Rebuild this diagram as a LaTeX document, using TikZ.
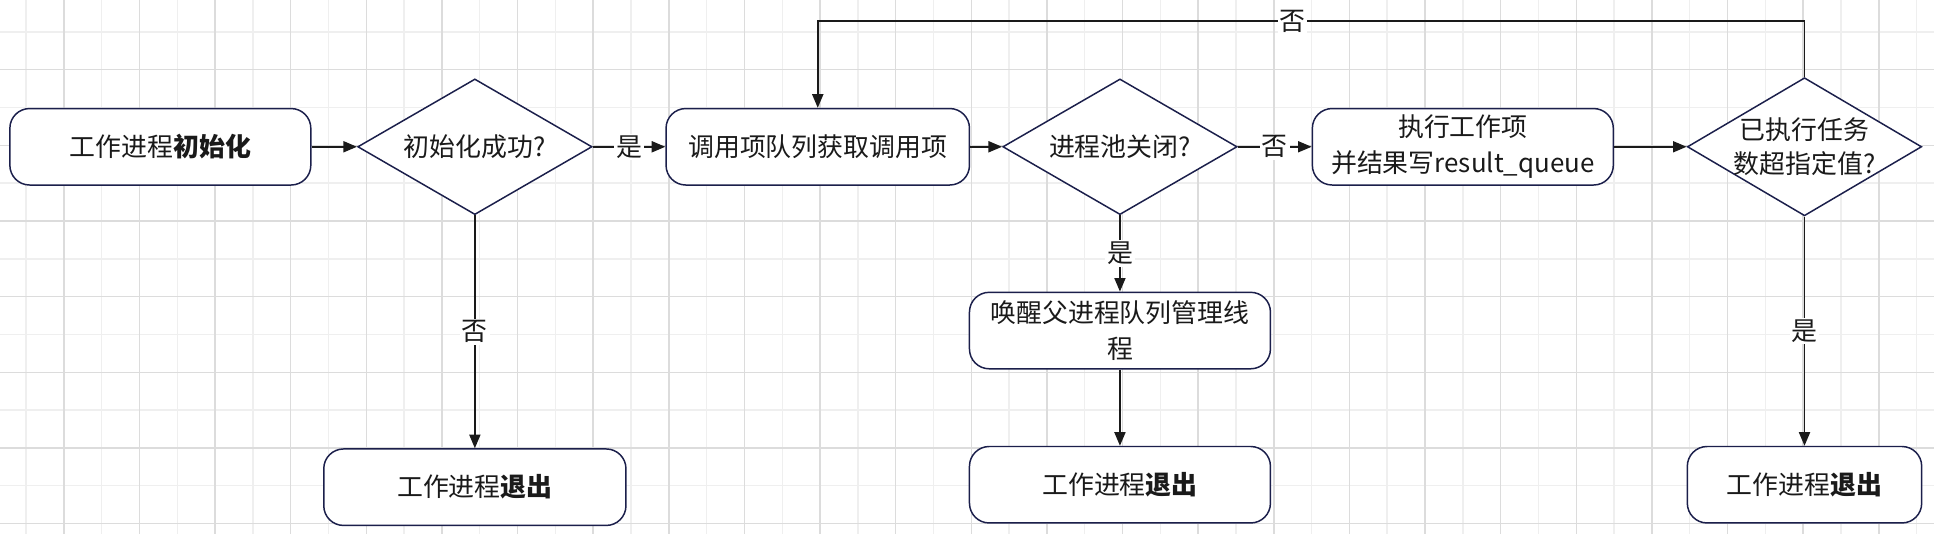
\documentclass[tikz,border=0pt]{standalone}
\usepackage{fontspec}
\setmainfont{Noto Sans CJK SC}
\usetikzlibrary{positioning}
\usetikzlibrary{shapes.geometric,arrows.meta}
\definecolor{edgeblue}{HTML}{1B1F4B}
\definecolor{ink}{HTML}{1A1A1A}
\definecolor{gridlight}{HTML}{EFEFEF}
\definecolor{griddark}{HTML}{DCDCDC}

\begin{document}
\begin{tikzpicture}[x=1pt,y=-1pt,
 box/.style={draw=edgeblue,line width=1.2pt,rounded corners=16pt,fill=white,minimum width=244pt,minimum height=62pt,inner sep=0pt,align=center,text=ink,font=\fontsize{21}{29}\selectfont},
 decision/.style={diamond,draw=edgeblue,line width=1.2pt,fill=white,minimum width=190pt,minimum height=110pt,aspect=1.727,inner xsep=-20pt,inner ysep=-8pt,align=center,text=ink,font=\fontsize{21}{28}\selectfont},
 flow/.style={draw=ink,line width=1.2pt,-{Triangle[length=11pt,width=9pt]}},
 tag/.style={fill=white,inner sep=1.5pt,text=ink,font=\fontsize{21}{25}\selectfont}]
 \useasboundingbox (0,0) rectangle (1568,433);
 \fill[white] (0,0) rectangle (1568,433);
 \foreach \i in {0,...,50} \draw[gridlight,line width=1.2pt] ({21.1+30.655*\i},0) -- ({21.1+30.655*\i},433);
 \foreach \j in {0,...,13} \draw[gridlight,line width=1.2pt] (0,{25.9+30.655*\j}) -- (1568,{25.9+30.655*\j});
 \foreach \i in {1,3,...,49} \draw[griddark,line width=1.2pt] ({21.1+30.655*\i},0) -- ({21.1+30.655*\i},433);
 \foreach \j in {1,3,...,13} \draw[griddark,line width=1.2pt] (0,{25.9+30.655*\j}) -- (1568,{25.9+30.655*\j});

 \node[box] (init) at (130,119) {工作进程\textbf{初始化}};
 \node[decision] (initok) at (385,119) {初始化成功?};
 \node[box,minimum width=246pt] (fetch) at (663,119) {调用项队列获取调用项};
 \node[decision] (closed) at (908,119) {进程池关闭?};
 \node[box] (run) at (1186,119) {执行工作项\\并结果写result\_queue};
 \node[decision,minimum height=112pt] (limit) at (1463,119) {已执行任务\\数超指定值?};
 \node[box] (wake) at (908,268) {唤醒父进程队列管理线\\程};
 \node[box,minimum width=245pt] (exitA) at (385,395) {工作进程\textbf{退出}};
 \node[box] (exitB) at (908,393) {工作进程\textbf{退出}};
 \node[box,minimum width=190pt] (exitC) at (1463,393) {工作进程\textbf{退出}};
 \coordinate (loop) at (1048,17);

 \draw[flow] (init) -- (initok);
 \draw[flow] (initok) -- node[tag] {是} (fetch);
 \draw[flow] (fetch) -- (closed);
 \draw[flow] (closed) -- node[tag] {否} (run);
 \draw[flow] (run) -- (limit);
 \draw[flow] (initok) -- node[tag] {否} (exitA);
 \draw[flow] (closed) -- node[tag] {是} (wake);
 \draw[flow] (wake) -- (exitB);
 \draw[flow] (limit) -- node[tag] {是} (exitC);
 \draw[flow] (limit.north) |- (loop) node[tag] {否} -| (fetch.north);
\end{tikzpicture}
\end{document}
